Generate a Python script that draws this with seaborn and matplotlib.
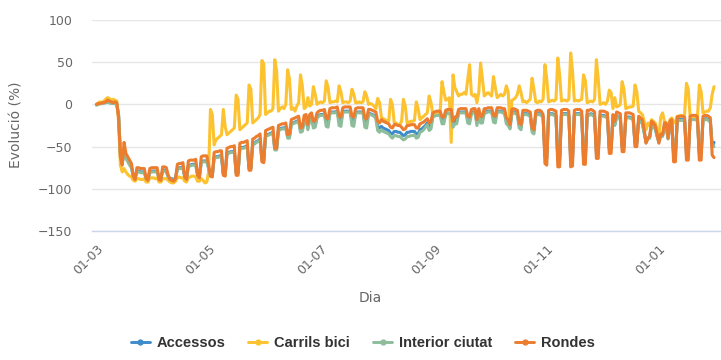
import numpy as np
import pandas as pd
import matplotlib
matplotlib.use("Agg")
import matplotlib.pyplot as plt
import matplotlib.dates as mdates
from matplotlib.lines import Line2D
from matplotlib import font_manager
import seaborn as sns

# Daily traffic change (%) vs. reference, from 2020-03-01; one row per week (Sun..Sat)
accessos = [
    [0, 1, 1, 1, 2, 2, 3], [2, 2, 1, 2, 1, -12, -58], [-68, -55, -62, -66, -70, -74, -84],
    [-87, -79, -79, -80, -80, -80, -87], [-88, -80, -79, -79, -79, -79, -87], [-88, -78, -78, -79, -85, -88, -88],
    [-89, -87, -76, -75, -75, -74, -85], [-87, -72, -72, -71, -71, -71, -83], [-85, -68, -67, -67, -67, -75, -84],
    [-84, -63, -62, -62, -61, -61, -82], [-83, -58, -57, -56, -56, -55, -81], [-81, -52, -51, -51, -50, -49, -75],
    [-75, -47, -46, -44, -43, -41, -65], [-66, -37, -36, -35, -34, -33, -52], [-52, -30, -29, -28, -28, -27, -38],
    [-38, -23, -22, -21, -20, -19, -31], [-30, -18, -17, -28, -17, -15, -25], [-24, -15, -13, -12, -12, -11, -21],
    [-22, -10, -9, -9, -9, -8, -19], [-20, -9, -8, -8, -8, -8, -19], [-20, -10, -9, -9, -9, -9, -21],
    [-22, -11, -11, -12, -13, -15, -26], [-28, -26, -28, -29, -30, -31, -34], [-35, -32, -32, -33, -33, -35, -37],
    [-36, -33, -33, -32, -32, -32, -35], [-35, -30, -29, -27, -25, -22, -27], [-25, -14, -13, -12, -12, -12, -19],
    [-19, -11, -10, -10, -10, -24, -19], [-19, -10, -9, -9, -9, -9, -18], [-19, -10, -9, -9, -22, -9, -18],
    [-18, -9, -9, -8, -8, -8, -17], [-18, -8, -8, -8, -9, -9, -20], [-22, -27, -10, -9, -10, -11, -25],
    [-27, -11, -11, -11, -12, -13, -30], [-32, -12, -11, -11, -12, -15, -62], [-64, -12, -11, -11, -12, -13, -66],
    [-66, -12, -11, -11, -11, -13, -66], [-65, -12, -11, -11, -11, -13, -64], [-64, -12, -12, -11, -12, -14, -58],
    [-58, -13, -13, -13, -14, -15, -53], [-53, -16, -24, -14, -15, -16, -51], [-51, -15, -15, -15, -16, -17, -46],
    [-46, -18, -20, -22, -33, -44, -40], [-39, -24, -26, -28, -37, -44, -36], [-37, -26, -26, -40, -24, -22, -60],
    [-60, -19, -18, -18, -18, -19, -59], [-59, -18, -17, -17, -17, -19, -59], [-59, -18, -17, -17, -18, -20, -50],
    [-45],
]

carrils_bici = [
    [0, 2, 3, 2, 4, 6, 8], [7, 5, 6, 5, 4, -20, -72], [-80, -76, -80, -83, -85, -86, -90],
    [-91, -88, -88, -89, -89, -88, -92], [-92, -87, -87, -87, -88, -87, -92], [-92, -88, -88, -88, -90, -92, -93],
    [-93, -91, -87, -86, -87, -87, -91], [-92, -86, -86, -85, -85, -86, -91], [-91, -88, -90, -93, -92, -80, -6],
    [-12, -48, -42, -40, -38, -36, -6], [-26, -36, -34, -32, -30, -28, 11], [6, -30, -28, -26, -24, -22, 23],
    [18, -22, -20, -18, -16, -12, 52], [48, -12, -10, -8, -8, -5, 53], [40, -8, -5, -3, -5, 0, 41],
    [30, -6, -4, -8, -2, 2, 35], [22, -5, -3, 8, -2, 0, 21], [12, 0, 2, 3, 2, 4, 28],
    [20, 2, 3, 3, 4, 3, 22], [15, 2, 3, 3, 2, 4, 18], [12, 2, 2, 3, 2, 3, 15],
    [10, 0, 1, 0, -2, -5, 7], [2, -15, -17, -18, -20, -20, 6], [0, -22, -22, -24, -24, -20, 6],
    [-2, -22, -21, -20, -20, -19, 3], [-5, -18, -16, -14, -12, -10, 10], [2, -12, -11, -10, -10, -8, 27],
    [15, 5, 6, 8, -45, 35, 20], [15, 10, 12, 12, 14, 12, 30], [47, 12, 10, 12, 2, 14, 49],
    [30, 10, 12, 14, 12, 10, 33], [20, 8, 10, 12, 10, 12, 22], [15, -28, 5, 6, 8, 12, 22],
    [14, 3, 4, 2, 4, 6, 31], [18, 3, 2, 4, 3, 6, 47], [30, 3, 4, 5, 4, 6, 55],
    [35, 4, 5, 5, 4, 6, 61], [40, 4, 5, 4, 5, 6, 35], [28, 2, 3, 4, 3, 6, 53],
    [30, 0, 1, 2, 0, 4, 17], [14, -5, 8, -3, -2, 0, 27], [18, -5, -4, -3, -3, -2, 23],
    [15, -8, -10, -12, -20, -30, -22], [-25, -18, -20, -22, -30, -38, -15], [-10, -20, -22, -35, -18, -16, -22],
    [-20, -14, -14, -13, -14, -12, 25], [18, -15, -16, -16, -17, -14, 23], [15, -10, -9, -8, -8, -4, 12],
    [21],
]

interior_ciutat = [
    [-1, 0, 1, 1, 2, 2, 3], [2, 1, 1, 1, 0, -13, -60], [-70, -58, -64, -68, -72, -75, -85],
    [-88, -80, -80, -81, -81, -81, -88], [-89, -81, -80, -80, -80, -80, -88], [-89, -79, -79, -80, -86, -89, -89],
    [-90, -88, -77, -76, -76, -75, -86], [-88, -73, -73, -72, -72, -72, -84], [-86, -69, -68, -68, -68, -76, -85],
    [-85, -64, -63, -63, -62, -62, -83], [-84, -59, -58, -57, -57, -56, -82], [-82, -53, -52, -52, -51, -50, -76],
    [-76, -48, -47, -45, -44, -42, -66], [-67, -38, -37, -36, -35, -34, -54], [-54, -31, -30, -29, -29, -28, -40],
    [-40, -24, -23, -22, -21, -20, -33], [-32, -19, -18, -30, -18, -16, -28], [-27, -16, -14, -13, -13, -12, -26],
    [-27, -11, -10, -10, -10, -9, -25], [-26, -10, -9, -9, -9, -9, -25], [-26, -11, -10, -10, -10, -10, -27],
    [-28, -12, -12, -13, -14, -17, -31], [-33, -30, -32, -33, -34, -35, -38], [-40, -37, -37, -38, -38, -40, -42],
    [-41, -38, -38, -37, -37, -36, -40], [-39, -33, -32, -30, -27, -24, -31], [-29, -15, -14, -13, -13, -13, -23],
    [-23, -12, -11, -11, -11, -27, -23], [-23, -11, -10, -10, -10, -10, -22], [-23, -11, -10, -10, -25, -10, -22],
    [-22, -10, -10, -9, -9, -9, -21], [-22, -9, -9, -9, -10, -10, -23], [-25, -29, -11, -10, -11, -12, -28],
    [-30, -12, -12, -12, -13, -14, -33], [-35, -13, -12, -12, -13, -16, -58], [-60, -13, -12, -12, -13, -14, -62],
    [-62, -13, -12, -12, -12, -14, -62], [-61, -13, -12, -12, -12, -14, -60], [-60, -13, -13, -12, -13, -15, -55],
    [-55, -14, -14, -14, -15, -16, -50], [-50, -17, -25, -15, -16, -17, -48], [-48, -16, -16, -16, -17, -18, -44],
    [-44, -19, -21, -23, -34, -45, -41], [-40, -25, -27, -29, -38, -45, -37], [-38, -27, -27, -41, -25, -23, -56],
    [-56, -20, -19, -19, -19, -20, -55], [-55, -19, -18, -18, -18, -20, -55], [-55, -19, -18, -18, -19, -21, -48],
    [-50],
]

rondes = [
    [0, 1, 1, 2, 2, 3, 5], [4, 3, 2, 3, 2, -15, -62], [-72, -45, -58, -62, -66, -70, -85],
    [-89, -75, -75, -76, -76, -76, -88], [-90, -76, -75, -75, -75, -75, -89], [-90, -74, -74, -75, -84, -89, -90],
    [-91, -88, -71, -70, -70, -69, -86], [-89, -67, -66, -66, -66, -65, -84], [-87, -62, -61, -61, -61, -72, -85],
    [-86, -57, -56, -56, -55, -55, -84], [-85, -52, -51, -50, -50, -49, -84], [-84, -46, -45, -45, -44, -43, -78],
    [-78, -41, -40, -38, -37, -35, -68], [-69, -31, -30, -29, -28, -27, -52], [-52, -25, -24, -23, -23, -22, -36],
    [-35, -18, -17, -16, -15, -14, -28], [-27, -13, -12, -24, -12, -10, -20], [-19, -10, -8, -7, -7, -6, -16],
    [-17, -5, -4, -4, -4, -3, -14], [-15, -4, -3, -3, -3, -3, -14], [-15, -5, -4, -4, -4, -4, -16],
    [-17, -6, -6, -7, -8, -9, -20], [-22, -18, -20, -21, -22, -23, -27], [-28, -24, -24, -25, -25, -27, -30],
    [-29, -25, -25, -24, -24, -24, -28], [-28, -23, -22, -21, -19, -17, -22], [-20, -10, -9, -8, -8, -8, -15],
    [-15, -7, -6, -6, -6, -20, -15], [-15, -6, -5, -5, -5, -5, -14], [-15, -6, -5, -5, -18, -5, -14],
    [-14, -5, -5, -4, -4, -4, -13], [-14, -4, -4, -4, -5, -5, -16], [-18, -24, -6, -5, -6, -7, -22],
    [-24, -7, -7, -7, -8, -9, -28], [-30, -8, -7, -7, -8, -12, -70], [-72, -7, -6, -6, -7, -8, -74],
    [-74, -7, -6, -6, -6, -8, -74], [-73, -7, -6, -6, -6, -8, -71], [-71, -7, -7, -6, -7, -9, -64],
    [-64, -8, -8, -8, -9, -10, -58], [-58, -12, -20, -9, -10, -11, -56], [-56, -10, -10, -10, -11, -12, -50],
    [-50, -14, -16, -18, -30, -46, -40], [-38, -20, -22, -25, -35, -46, -35], [-36, -22, -22, -40, -20, -18, -68],
    [-68, -15, -14, -14, -14, -15, -66], [-66, -14, -13, -13, -13, -15, -66], [-66, -14, -13, -13, -14, -16, -60],
    [-63],
]

series_names = ["Accessos", "Carrils bici", "Interior ciutat", "Rondes"]
series_colors = ["#3f8ccb", "#fcc22f", "#8dbd9b", "#ec7c2e"]
y_ticks = [100, 50, 0, -50, -100, -150]
x_tick_dates = ["2020-03-01", "2020-05-01", "2020-07-01", "2020-09-01", "2020-11-01", "2021-01-01"]

frames = []
for name, weeks in zip(series_names, [accessos, carrils_bici, interior_ciutat, rondes]):
    vals = [v for wk in weeks for v in wk]
    frames.append(pd.DataFrame({
        "Dia": pd.date_range("2020-03-01", periods=len(vals), freq="D"),
        "Evolució (%)": vals,
        "Tipus": name,
    }))
df = pd.concat(frames, ignore_index=True)

sns.set_style("white")
installed = {f.name for f in font_manager.fontManager.ttflist}
legend_font = "Liberation Sans Narrow" if "Liberation Sans Narrow" in installed else "Liberation Sans"
plt.rcParams["font.family"] = ["DejaVu Sans"]

fig = plt.figure(figsize=(7.21, 3.60), dpi=100)
ax = fig.add_axes([92 / 721, 1 - 231 / 360, 1 - 92 / 721, (231 - 20) / 360])

sns.lineplot(data=df, x="Dia", y="Evolució (%)", hue="Tipus", hue_order=series_names,
             palette=series_colors, linewidth=2.2, ax=ax, legend=False)

ax.set_ylim(-150, 100)
ax.set_yticks(y_ticks)
x0 = pd.Timestamp("2020-03-01")
ax.set_xlim(x0 - pd.Timedelta(days=2.45), x0 + pd.Timedelta(days=339.8))
ax.set_xticks(pd.to_datetime(x_tick_dates))
ax.xaxis.set_major_formatter(mdates.DateFormatter("%d-%m"))

ax.grid(axis="y", color="#e6e6e6", linewidth=1.0)
ax.grid(axis="x", visible=False)
ax.set_axisbelow(True)
for side in ["left", "right", "top"]:
    ax.spines[side].set_visible(False)
ax.spines["bottom"].set_color("#ccd6eb")
ax.spines["bottom"].set_linewidth(1.0)

ax.tick_params(axis="y", length=0, pad=14, labelsize=9, labelcolor="#666666")
ax.tick_params(axis="x", length=5, width=1, color="#ccd6eb", pad=3, labelsize=9, labelcolor="#666666")
for lbl in ax.get_xticklabels():
    lbl.set_rotation(45)
    lbl.set_ha("right")
    lbl.set_va("top")
    lbl.set_rotation_mode("anchor")

ax.set_xlabel("Dia", fontsize=10, color="#666666")
ax.set_ylabel("Evolució (%)", fontsize=10, color="#666666")
ax.xaxis.set_label_coords((370 - 92) / (721 - 92), -(291 - 231) / (231 - 20))
ax.yaxis.set_label_coords(-(92 - 24) / (721 - 92), (231 - 125) / (231 - 20))

handles = [Line2D([0], [0], color=c, lw=2.1, marker="o", markersize=3.5) for c in series_colors]
fig.legend(handles, series_names, loc="center", bbox_to_anchor=(0.503, 0.047), ncol=4,
           frameon=False, handlelength=1.3, handletextpad=0.45, columnspacing=1.6,
           prop={"family": legend_font, "weight": "bold", "size": 10.5}, labelcolor="#333333")

fig.savefig("out.png", dpi=100)
